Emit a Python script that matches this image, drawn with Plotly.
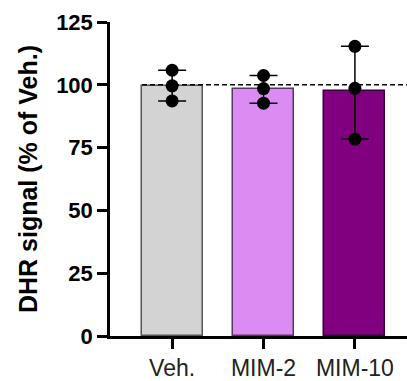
import plotly.graph_objects as go
import numpy as np

categories = ["Veh.", "MIM-2", "MIM-10"]
veh_points = [105.8, 99.6, 93.6]
mim2_points = [103.7, 98.5, 92.7]
mim10_points = [115.3, 98.6, 78.4]
bar_colors = ["#D3D3D3", "#DA8CF2", "#800080"]
edge_colors = ["#555555", "#5a3566", "#3a003a"]
y_ticks = [0, 25, 50, 75, 100, 125]

groups = [veh_points, mim2_points, mim10_points]
means = [float(np.mean(g)) for g in groups]
err_plus = [max(g) - m for g, m in zip(groups, means)]
err_minus = [m - min(g) for g, m in zip(groups, means)]

fig = go.Figure()
fig.add_trace(go.Bar(
    x=categories, y=means, width=0.667,
    marker=dict(color=bar_colors, line=dict(color=edge_colors, width=1.5)),
    error_y=dict(type="data", symmetric=False, array=err_plus, arrayminus=err_minus,
                 color="black", thickness=1.5, width=14),
    showlegend=False,
))
for cat, g in zip(categories, groups):
    fig.add_trace(go.Scatter(
        x=[cat] * len(g), y=g, mode="markers",
        marker=dict(color="black", size=13),
        showlegend=False, cliponaxis=False,
    ))

fig.add_shape(type="line", xref="x", yref="y", x0=-0.33, x1=2.57, y0=100, y1=100,
              line=dict(color="black", width=1.5, dash="5px,3px"))

fig.update_layout(
    width=407, height=381,
    margin=dict(l=110, r=0, t=22, b=42),
    plot_bgcolor="white", paper_bgcolor="white",
    font=dict(family="Liberation Sans, Arial, sans-serif", color="black"),
    bargap=0,
)
fig.update_xaxes(
    range=[-0.68, 2.57], showline=True, linecolor="black", linewidth=2.5,
    ticks="outside", ticklen=10, tickwidth=2.5, tickcolor="black",
    tickfont=dict(size=23, color="#222222"), showgrid=False, zeroline=False,
)
fig.update_yaxes(
    range=[0, 125], tickvals=y_ticks, showline=True, linecolor="black", linewidth=2.5,
    ticks="outside", ticklen=10, tickwidth=2.5, tickcolor="black",
    tickfont=dict(size=22, weight="bold"), showgrid=False, zeroline=False,
    title=dict(text="DHR signal (% of Veh.)", font=dict(size=25, weight="bold"), standoff=12),
)

fig.write_html("out.html")
